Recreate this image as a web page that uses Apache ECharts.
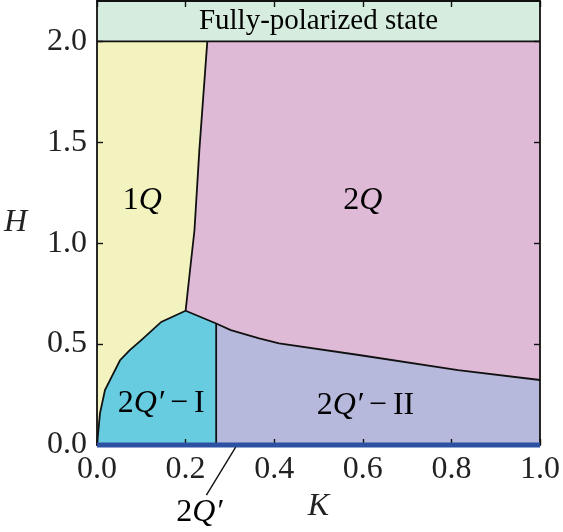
<!DOCTYPE html>
<html><head><meta charset="utf-8">
<script src="https://cdn.jsdelivr.net/npm/echarts@6/dist/echarts.min.js"></script>
<style>html,body{margin:0;padding:0;background:#fff}#c{width:563px;height:532px}</style>
</head><body><div id="c"></div>
<script>
// ---- data ----
const K_TICKS = [0, 0.2, 0.4, 0.6, 0.8, 1.0];
const H_TICKS = [0, 0.5, 1.0, 1.5, 2.0];
const H_SAT = 2.0;
const H_TOP = 2.2;
// 1Q / 2Q boundary, from H_sat down to triple point
const bound1Q2Q = [[0.249, 2.0], [0.231, 1.46], [0.22, 1.064], [0.21, 0.866], [0.2, 0.665]];
// 1Q / 2Q'-I boundary, from origin up to triple point
const bound1Q2QI = [[0, 0], [0.0067, 0.157], [0.018, 0.272], [0.033, 0.338], [0.052, 0.42], [0.074, 0.47], [0.10, 0.52], [0.145, 0.61], [0.2, 0.665]];
// 2Q'-I/2Q'-II vertical boundary
const bound2QI2QII = [[0.269, 0], [0.269, 0.602]];
// 2Q / (2Q'-I, 2Q'-II) boundary from triple point to K=1
const bound2Q2QP = [[0.2, 0.665], [0.269, 0.602], [0.302, 0.569], [0.366, 0.528], [0.411, 0.503], [0.591, 0.446], [0.815, 0.371], [1.0, 0.322]];
// H=0 line phase (2Q')
const line2QP = [[0, 0], [1, 0]];
const pointer2QP = [[0.313, -0.011], [0.247, -0.248]];
const labels = [
  { name: '1Q', pos: [0.102, 1.21], rich: '{r|1}{i|Q}' },
  { name: '2Q', pos: [0.6, 1.21], rich: '{r|2}{i|Q}' },
  { name: "2Q'-I", pos: [0.145, 0.205], rich: '{r|2}{i|Q′}{m|−}{r|I}' },
  { name: "2Q'-II", pos: [0.606, 0.195], rich: '{r|2}{i|Q′}{m|−}{r|II}' },
  { name: 'FP', pos: [0.5, 2.1], rich: '{s|Fully-polarized state}' },
  { name: "2Q'", pos: [0.231, -0.337], rich: '{r|2}{i|Q′}' }
];

// ---- regions built from boundaries ----
const junctionIdx = 1; // index of junction in bound2Q2QP
const regions = [
  { color: '#f3f3c0', pts: bound1Q2QI.concat(bound1Q2Q.slice().reverse(), [[0, H_SAT]]) },
  { color: '#dfbad7', pts: bound1Q2Q.concat(bound2Q2QP.slice(1), [[1, H_SAT]]) },
  { color: '#68cce1', pts: bound1Q2QI.concat([bound2Q2QP[junctionIdx]], [bound2QI2QII[0]]) },
  { color: '#b7b9dc', pts: bound2QI2QII.concat(bound2Q2QP.slice(junctionIdx + 1), [[1, 0]]) },
  { color: '#d5ecdf', pts: [[0, H_SAT], [1, H_SAT], [1, H_TOP], [0, H_TOP]] }
];
const boundaryLines = [bound1Q2Q, bound1Q2QI, bound2QI2QII, bound2Q2QP, [[0, H_SAT], [1, H_SAT]]];

const SERIF = '"Liberation Serif", "DejaVu Serif", serif';
const TXT = '#222';
const rich = {
  r: { fontFamily: SERIF, fontSize: 32, color: TXT },
  i: { fontFamily: SERIF, fontSize: 32, fontStyle: 'italic', color: TXT },
  m: { fontFamily: SERIF, fontSize: 32, color: TXT, padding: [0, 6, 0, 6] },
  s: { fontFamily: SERIF, fontSize: 29, color: TXT }
};

const chart = echarts.init(document.getElementById('c'), null, { renderer: 'canvas' });

function polySeries(list, fill, z) {
  return {
    type: 'custom', z: z, silent: true, clip: false,
    data: list.map((_, i) => i),
    renderItem: function (params, api) {
      const item = list[params.dataIndex];
      const pts = (item.pts || item).map(p => api.coord(p));
      if (fill) {
        return { type: 'polygon', shape: { points: pts }, style: { fill: item.color, stroke: null } };
      }
      return { type: 'polyline', shape: { points: pts }, style: { fill: null, stroke: '#111', lineWidth: 1.8 } };
    }
  };
}

const axisCommon = {
  type: 'value',
  z: 10,
  axisLine: { show: true, onZero: false, lineStyle: { color: '#111', width: 1.8 } },
  axisTick: { show: true, inside: true, length: 6, lineStyle: { color: '#111', width: 1.4 } },
  splitLine: { show: false }
};

chart.setOption({
  animation: false,
  backgroundColor: '#fff',
  grid: { left: 97, right: 21, top: 1, bottom: 87 },
  xAxis: [
    Object.assign({}, axisCommon, {
      min: 0, max: 1, interval: 0.2, position: 'bottom',
      name: 'K', nameLocation: 'middle', nameGap: 39,
      nameTextStyle: { fontFamily: SERIF, fontStyle: 'italic', fontSize: 32, color: TXT },
      axisTick: Object.assign({}, axisCommon.axisTick, { customValues: K_TICKS }),
      axisLabel: { customValues: K_TICKS, margin: 9, fontFamily: SERIF, fontSize: 32, color: TXT, formatter: v => v.toFixed(1) }
    }),
    Object.assign({}, axisCommon, {
      min: 0, max: 1, interval: 0.2, position: 'top',
      axisTick: Object.assign({}, axisCommon.axisTick, { customValues: K_TICKS }),
      axisLabel: { show: false }
    })
  ],
  yAxis: [
    Object.assign({}, axisCommon, {
      min: 0, max: H_TOP, position: 'left',
      name: 'H', nameLocation: 'middle', nameGap: 70, nameRotate: 0,
      nameTextStyle: { fontFamily: SERIF, fontStyle: 'italic', fontSize: 32, color: TXT },
      axisTick: Object.assign({}, axisCommon.axisTick, { customValues: H_TICKS }),
      axisLabel: { customValues: H_TICKS, margin: 10, fontFamily: SERIF, fontSize: 32, color: TXT, formatter: v => v.toFixed(1) }
    }),
    Object.assign({}, axisCommon, {
      min: 0, max: H_TOP, position: 'right',
      axisTick: Object.assign({}, axisCommon.axisTick, { customValues: H_TICKS }),
      axisLabel: { show: false }
    })
  ],
  series: [
    polySeries(regions, true, 1),
    polySeries(boundaryLines, false, 3),
    {
      type: 'line', z: 20, data: line2QP, symbol: 'none', clip: false, silent: true,
      lineStyle: { color: '#2c51a3', width: 5 }
    },
    {
      type: 'line', z: 20, data: pointer2QP, symbol: 'none', clip: false, silent: true,
      lineStyle: { color: '#111', width: 1.4 }
    },
    {
      type: 'custom', z: 30, clip: false, silent: true,
      data: labels.map((_, i) => i),
      renderItem: function (params, api) {
        const l = labels[params.dataIndex];
        const p = api.coord(l.pos);
        return { type: 'text', x: p[0], y: p[1], style: { text: l.rich, rich: rich, align: 'center', verticalAlign: 'middle' } };
      }
    }
  ]
});
</script></body></html>
